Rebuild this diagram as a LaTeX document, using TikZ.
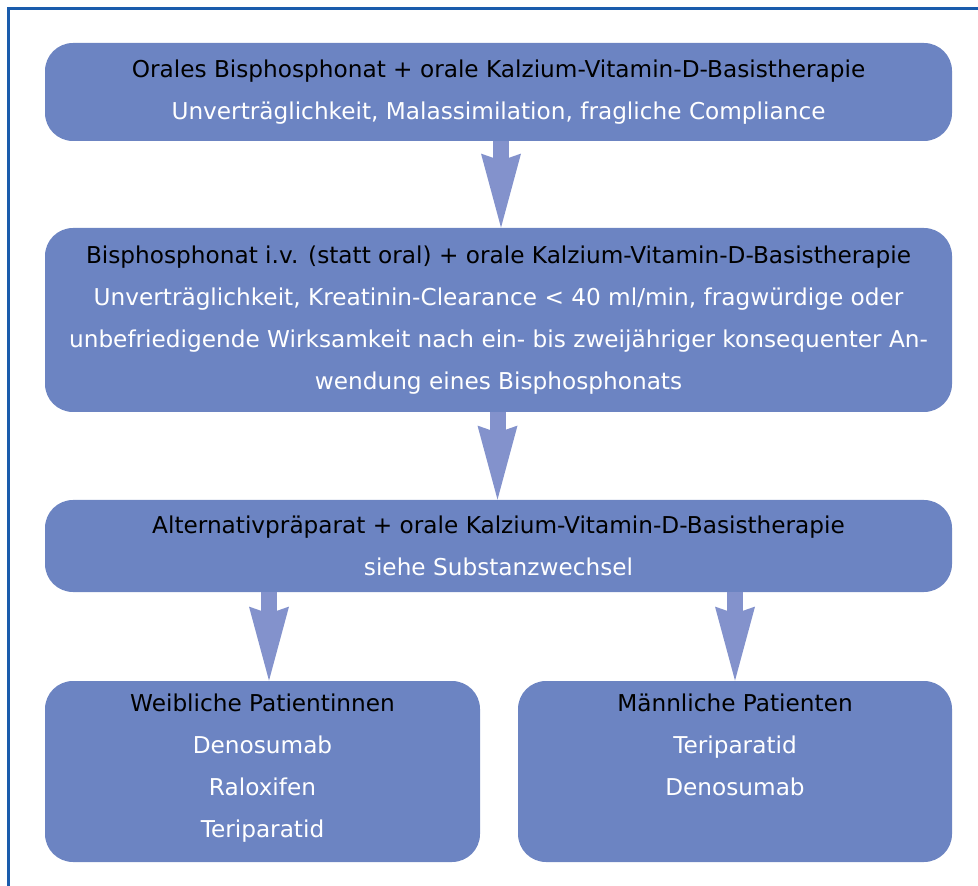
\documentclass[tikz,border=0pt]{standalone}
\usepackage{fontspec}
\setmainfont{DejaVu Sans}
\usetikzlibrary{arrows.meta}
\definecolor{boxblue}{RGB}{108,132,194}
\definecolor{arrblue}{RGB}{131,146,204}
\definecolor{frameblue}{RGB}{26,92,172}

\begin{document}
\begin{tikzpicture}[x=0.5pt, y=-0.5pt,
  box/.style={fill=boxblue, rounded corners=14pt, align=center, text=white, inner sep=0pt,
    font=\fontsize{11.6}{21}\selectfont},
  flow/.style={draw=arrblue, line width=8pt,
    -{Stealth[length=37pt, width=20pt, inset=3.5pt, line width=0pt, fill=arrblue]}}]
\useasboundingbox (0,0) rectangle (978,886);
\begin{scope}
\clip (0,0) rectangle (978,886);
\draw[frameblue, line width=1.1pt] (8.5,8.5) rectangle (1000,910);
\end{scope}

\path (498.5,92) node[box, minimum width=453.5pt, minimum height=49pt] (b1)
  {\textcolor{black}{Orales Bisphosphonat + orale Kalzium-Vitamin-D-Basistherapie}\\
   Unverträglichkeit, Malassimilation, fragliche Compliance}
(498.5,320) node[box, minimum width=453.5pt, minimum height=92pt] (b2)
  {\textcolor{black}{Bisphosphonat i.v. (statt oral) + orale Kalzium-Vitamin-D-Basistherapie}\\
   Unverträglichkeit, Kreatinin-Clearance < 40 ml/min, fragwürdige oder\\
   unbefriedigende Wirksamkeit nach ein- bis zweijähriger konsequenter An-\\
   wendung eines Bisphosphonats}
(498.5,546) node[box, minimum width=453.5pt, minimum height=46pt] (b3)
  {\textcolor{black}{Alternativpräparat + orale Kalzium-Vitamin-D-Basistherapie}\\
   siehe Substanzwechsel}
(262.5,771.5) node[box, minimum width=217.5pt, minimum height=90.5pt] (b4)
  {\textcolor{black}{Weibliche Patientinnen}\\Denosumab\\Raloxifen\\Teriparatid\strut}
(735,771.5) node[box, minimum width=217pt, minimum height=90.5pt] (b5)
  {\textcolor{black}{Männliche Patienten}\\Teriparatid\\Denosumab\\\strut};

\draw[flow] ([xshift=1.25pt]b1.south) -- ([xshift=1.25pt]b2.north);
\draw[flow] ([xshift=-0.5pt]b2.south) -- ([xshift=-0.5pt]b3.north);
\draw[flow] ([xshift=3.25pt]b3.south -| b4) -- ([xshift=3.25pt]b4.north);
\draw[flow] (b3.south -| b5) -- (b5.north);
\end{tikzpicture}
\end{document}
